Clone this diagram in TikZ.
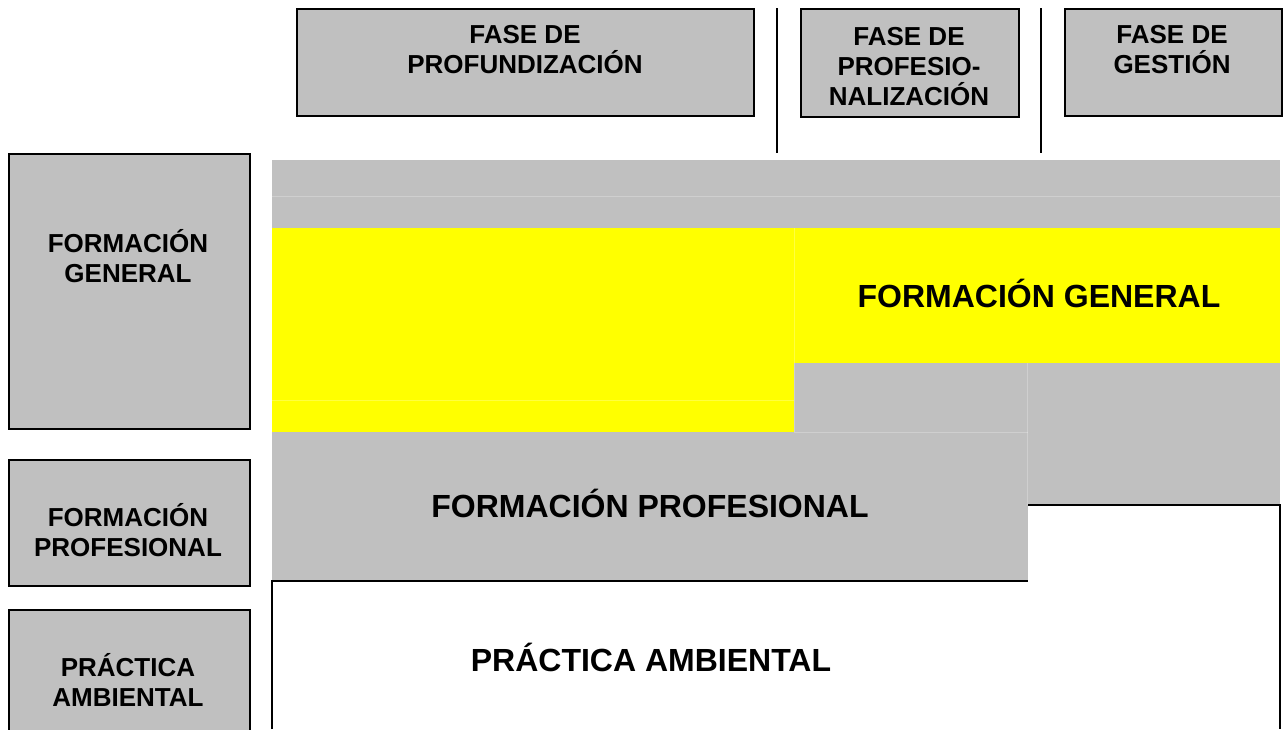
\documentclass[tikz,border=0pt]{standalone}
\usepackage{fontspec}
\setmainfont{Liberation Sans}
\usetikzlibrary{positioning}

\definecolor{cellgray}{RGB}{192,192,192}
\definecolor{cellyellow}{RGB}{255,255,0}

\begin{document}
\begin{tikzpicture}[x=1pt,y=-1pt,
    phasebox/.style={draw=black,line width=1.5pt,fill=cellgray,anchor=north west,inner sep=0pt},
    smalltext/.style={font=\fontsize{26}{30}\selectfont\bfseries,align=center,inner sep=0pt,anchor=base},
    bigtext/.style={font=\fontsize{32}{38}\selectfont\bfseries,inner sep=0pt,anchor=base},
    seam/.style={line width=0.8pt,white,opacity=0.25}]
    \clip (0,0) rectangle (1283,729);
    % phase boxes on top
    \node[phasebox,minimum width=457pt,minimum height=107pt] (profund) at (296,8) {};
    \node[phasebox,minimum width=218pt,minimum height=108pt] (profes) at (800,8) {};
    \node[phasebox,minimum width=217pt,minimum height=107pt] (gestion) at (1064,8) {};
    \node[smalltext] (profundtxt) at (525,73) {FASE DE\\PROFUNDIZACIÓN};
    \node[smalltext] (profestxt) at (909,105) {FASE DE\\PROFESIO-\\NALIZACIÓN};
    \node[smalltext] (gestiontxt) at (1172,73) {FASE DE\\GESTIÓN};
    \draw[line width=1.5pt] (777,8) -- (777,153);
    \draw[line width=1.5pt] (1041,8) -- (1041,153);
    % row boxes on the left
    \node[phasebox,minimum width=241pt,minimum height=275pt] (lgen) at (8,153) {};
    \node[phasebox,minimum width=241pt,minimum height=126pt] (lprof) at (8,459) {};
    \node[phasebox,minimum width=241pt,minimum height=140pt] (lprac) at (8,609) {};
    \node[smalltext] (lgentxt) at (128,282) {FORMACIÓN\\GENERAL};
    \node[smalltext] (lproftxt) at (128,556) {FORMACIÓN\\PROFESIONAL};
    \node[smalltext] (lpractxt) at (128,706) {PRÁCTICA\\AMBIENTAL};
    % cells
    \fill[cellgray] (272,160) rectangle (1280,228);
    \fill[cellyellow] (272,228) rectangle (794,432);
    \fill[cellyellow] (794,228) rectangle (1280,363);
    \fill[cellgray] (794,363) rectangle (1028,432);
    \fill[cellgray] (1028,363) rectangle (1280,505);
    \fill[cellgray] (272,432) rectangle (1028,581);
    \draw[seam] (272,196) -- (1280,196);
    \draw[seam] (272,400) -- (794,400);
    \draw[seam] (794,228) -- (794,432) -- (1028,432);
    \draw[seam] (1027,363) -- (1027,505);
    \draw[line width=1.5pt] (272,729) -- (272,581) -- (1028,581);
    \draw[line width=1.5pt] (1028,505) -- (1280,505) -- (1280,729);
    \node[bigtext] (gentxt) at (1039,307) {FORMACIÓN GENERAL};
    \node[bigtext] (proftxt) at (650,517) {FORMACIÓN PROFESIONAL};
    \node[bigtext] (practxt) at (651,671) {PRÁCTICA AMBIENTAL};
\end{tikzpicture}
\end{document}
